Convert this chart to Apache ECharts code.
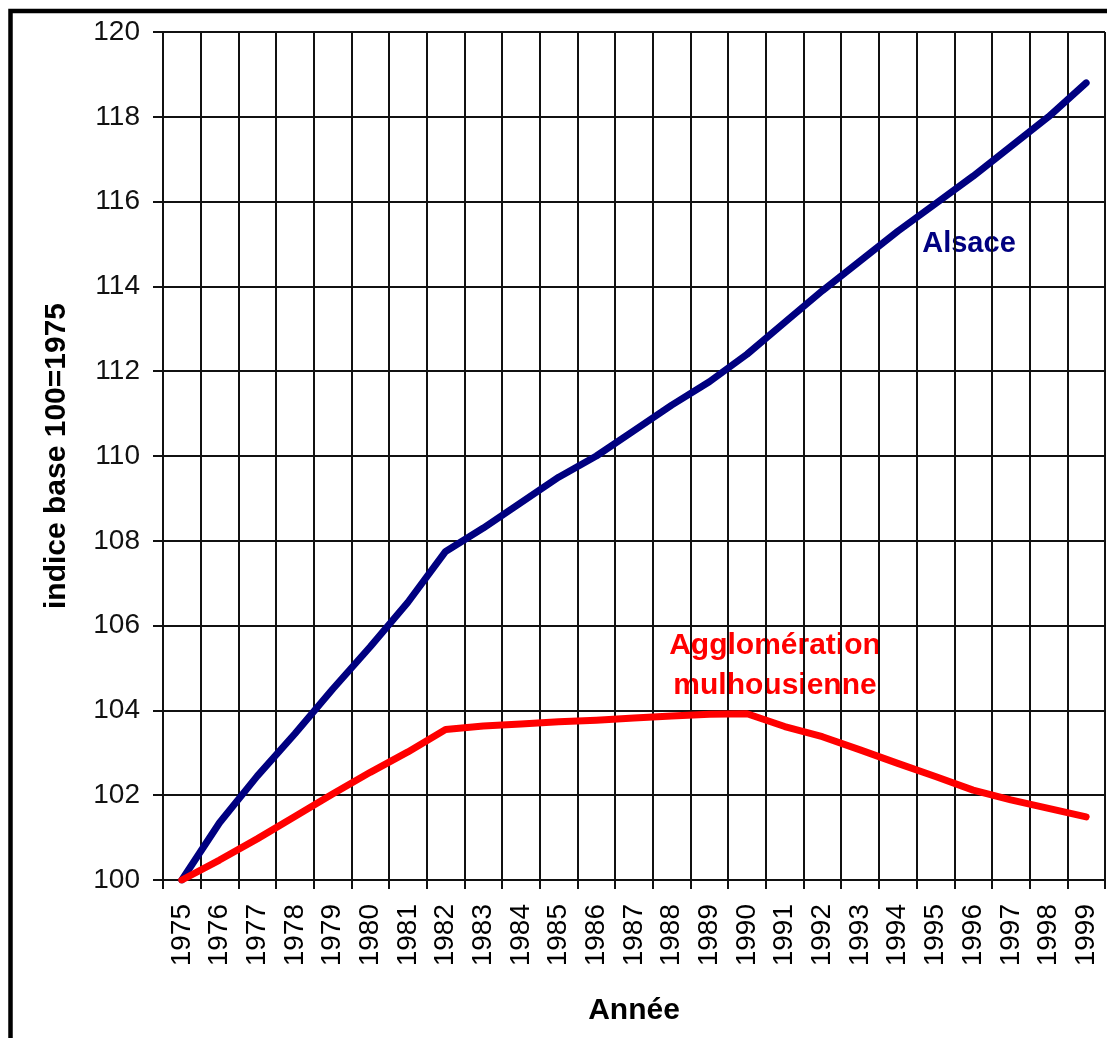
<!DOCTYPE html>
<html>
<head>
<meta charset="utf-8">
<script src="https://cdn.jsdelivr.net/npm/echarts@6/dist/echarts.min.js"></script>
<style>
  html, body { margin: 0; padding: 0; background: #fff; }
  #chart { width: 1107px; height: 1038px; }
</style>
</head>
<body>
<div id="chart"></div>
<script>
// années 1975..1999
const years = [
  "1975", "1976", "1977", "1978", "1979", "1980", "1981", "1982", "1983",
  "1984", "1985", "1986", "1987", "1988", "1989", "1990", "1991", "1992",
  "1993", "1994", "1995", "1996", "1997", "1998", "1999",
];
// indice base 100 = 1975
const alsace = [
  100, 101.35, 102.45, 103.45, 104.5, 105.5, 106.55, 107.75, 108.3, 108.9,
  109.5, 110.0, 110.6, 111.2, 111.75, 112.4, 113.15, 113.9, 114.6, 115.3,
  115.95, 116.6, 117.3, 118.0, 118.8,
];
const mulhouse = [
  100, 100.47, 100.97, 101.5, 102.03, 102.54, 103.02, 103.55, 103.63, 103.68,
  103.73, 103.77, 103.82, 103.87, 103.91, 103.92, 103.62, 103.38, 103.07,
  102.75, 102.44, 102.12, 101.89, 101.69, 101.49,
];
const yTicks = { min: 100, max: 120, step: 2 };

const font = "'Liberation Sans', Arial, sans-serif";
const gridLine = { color: "#111", width: 2 };

let myChart = echarts.init(document.getElementById("chart"));
myChart.setOption({
  backgroundColor: "#fff",
  animation: false,
  grid: {
    left: 163,
    right: 2,
    top: 32,
    bottom: 158,
  },
  xAxis: {
    type: "category",
    data: years,
    boundaryGap: true,
    name: "Année",
    nameLocation: "middle",
    nameGap: 116,
    nameTextStyle: {
      color: "#000",
      fontFamily: font,
      fontWeight: "bold",
      fontSize: 30,
    },
    axisLabel: {
      interval: 0,
      rotate: 90,
      margin: 24,
      color: "#000",
      fontFamily: font,
      fontSize: 28,
    },
    axisLine: { lineStyle: { color: "#111", width: 2 } },
    axisTick: { show: true, length: 9, lineStyle: { color: "#111", width: 2 } },
    splitLine: { show: true, lineStyle: gridLine },
  },
  yAxis: {
    type: "value",
    min: yTicks.min,
    max: yTicks.max,
    interval: yTicks.step,
    name: "indice base 100=1975",
    nameLocation: "middle",
    nameRotate: 90,
    nameGap: 91,
    nameTextStyle: {
      color: "#000",
      fontFamily: font,
      fontWeight: "bold",
      fontSize: 30,
    },
    axisLabel: {
      margin: 23,
      color: "#111",
      fontFamily: font,
      fontSize: 28,
    },
    axisLine: { show: true, lineStyle: { color: "#111", width: 2 } },
    axisTick: { show: true, length: 10, lineStyle: { color: "#111", width: 2 } },
    splitLine: { show: true, lineStyle: gridLine },
  },
  series: [
    {
      name: "Alsace",
      type: "line",
      data: alsace,
      symbol: "none",
      lineStyle: { color: "#000080", width: 7, cap: "round", join: "round" },
    },
    {
      name: "Agglomération mulhousienne",
      type: "line",
      data: mulhouse,
      symbol: "none",
      lineStyle: { color: "#ff0000", width: 7, cap: "round", join: "round" },
    },
  ],
  graphic: [
    // cadre noir
    {
      type: "rect",
      shape: { x: 10.5, y: 11, width: 1300, height: 1300 },
      style: { fill: null, stroke: "#000", lineWidth: 4.5 },
      silent: true,
    },
    {
      type: "text",
      x: 969,
      y: 244,
      style: {
        text: "Alsace",
        fill: "#000080",
        font: "bold 29px " + font,
        align: "center",
        verticalAlign: "middle",
      },
    },
    {
      type: "text",
      x: 775,
      y: 666,
      style: {
        text: "Agglomération\nmulhousienne",
        fill: "#ff0000",
        font: "bold 30px " + font,
        lineHeight: 40,
        align: "center",
        verticalAlign: "middle",
      },
    },
  ],
});
</script>
</body>
</html>
